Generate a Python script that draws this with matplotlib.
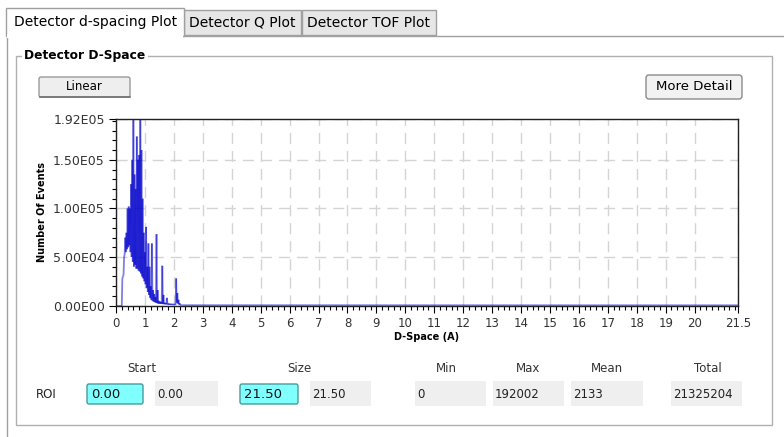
import numpy as np
import matplotlib
matplotlib.use("Agg")
import matplotlib.pyplot as plt
from matplotlib.patches import Rectangle, FancyBboxPatch
from matplotlib.collections import LineCollection
from matplotlib.ticker import MultipleLocator, FixedLocator

plt.rcParams['font.family'] = ['DejaVu Sans']

# spectrum: d-spacing (A) and number of events
d_space = [0.00, 0.20, 0.22, 0.24, 0.26, 0.28, 0.30, 0.32, 0.34, 0.36, 0.38,
           0.40, 0.42, 0.44, 0.46, 0.48, 0.50, 0.52, 0.54, 0.56, 0.58,
           0.60, 0.62, 0.64, 0.66, 0.68, 0.70, 0.72, 0.74, 0.76, 0.78,
           0.80, 0.82, 0.84, 0.86, 0.88, 0.90, 0.92, 0.94, 0.96, 0.98,
           1.00, 1.02, 1.04, 1.06, 1.08, 1.10, 1.12, 1.14, 1.16, 1.18,
           1.20, 1.22, 1.24, 1.26, 1.28, 1.30, 1.32, 1.34, 1.36, 1.38,
           1.40, 1.42, 1.44, 1.46, 1.48, 1.50, 1.52, 1.54, 1.56, 1.58,
           1.60, 1.62, 1.64, 1.66, 1.68, 1.70, 1.72, 1.74, 1.76, 1.78,
           1.80, 1.82, 1.84, 1.86, 1.88, 1.90, 1.92, 1.94, 1.96, 1.98,
           2.00, 2.02, 2.04, 2.06, 2.08, 2.10, 2.12, 2.14, 2.16, 2.18,
           2.20, 2.22, 2.24, 2.26, 2.28, 2.30, 21.50]
events = [0, 0, 28000, 30000, 31000, 50000, 53000, 70000, 55000, 75000, 58000,
          100000, 60000, 102000, 62000, 100000, 55000, 125000, 50000, 150000, 45000,
          192000, 40000, 135000, 42000, 120000, 38000, 174000, 38000, 150000, 36000,
          155000, 35000, 192000, 33000, 160000, 30000, 110000, 28000, 75000, 25000,
          55000, 22000, 81000, 18000, 40000, 14000, 64000, 11000, 40000, 8000,
          20000, 6000, 64000, 5000, 16000, 4000, 12000, 3500, 9000, 3000,
          73500, 2500, 16000, 2000, 5000, 2000, 4000, 1800, 4000, 1800,
          41000, 1500, 11000, 1500, 3000, 1500, 2500, 1200, 8000, 1200,
          2000, 1000, 2000, 1000, 1800, 1000, 1800, 900, 1500, 900,
          1500, 900, 1500, 1000, 28000, 3000, 13000, 2000, 6000, 1000,
          2500, 500, 600, 400, 500, 400, 300]

y_ticks = [0, 50000, 100000, 150000, 192002]
y_labels = ["0.00E00", "5.00E04", "1.00E05", "1.50E05", "1.92E05"]
x_ticks = list(range(0, 21)) + [21.5]
x_labels = [str(v) for v in range(0, 21)] + ["21.5"]

roi_heads = ["Start", "Size", "Min", "Max", "Mean", "Total"]
roi_values = ["0.00", "0.00", "21.50", "21.50", "0", "192002", "2133", "21325204"]

W, H = 784, 437
fig = plt.figure(figsize=(W / 100, H / 100), dpi=100)
bg = fig.add_axes([0, 0, 1, 1])
bg.set_xlim(0, W)
bg.set_ylim(H, 0)
bg.axis("off")


def box(x0, y0, x1, y1, fc, ec, lw=1.0, z=1):
    bg.add_patch(Rectangle((x0, y0), x1 - x0, y1 - y0, facecolor=fc,
                           edgecolor=ec, linewidth=lw, zorder=z))


# tab strip
bg.plot([184, W], [35.5, 35.5], color="#a0a0a0", lw=1)
bg.plot([7.5, 7.5], [35, H], color="#a0a0a0", lw=1)
box(6, 8, 184, 36, "white", "#a0a0a0", z=2)
bg.add_patch(Rectangle((7, 34), 176, 4, facecolor="white", edgecolor="none", zorder=3))
box(184, 10, 301, 35, "#e6e6e6", "#a0a0a0")
box(302, 10, 436, 35, "#e6e6e6", "#a0a0a0")
bg.text(14, 22, "Detector d-spacing Plot", fontsize=10, va="center", zorder=4)
bg.text(189, 23, "Detector Q Plot", fontsize=10, va="center", zorder=4)
bg.text(307, 23, "Detector TOF Plot", fontsize=10, va="center", zorder=4)

# group box
box(16, 56, 772, 425, "none", "#b0b0b0")
bg.add_patch(Rectangle((22, 50), 126, 12, facecolor="white", edgecolor="none", zorder=2))
bg.text(24, 56, "Detector D-Space", fontsize=8.8, fontweight="bold", va="center", zorder=3)

# buttons
bg.add_patch(FancyBboxPatch((39, 77), 91, 20, boxstyle="round,pad=0,rounding_size=2",
                            facecolor="#eeeeee", edgecolor="#9a9a9a", lw=1))
bg.plot([40, 130], [96.5, 96.5], color="#707070", lw=1.2)
bg.text(84.5, 87, "Linear", fontsize=8.5, ha="center", va="center")
bg.add_patch(FancyBboxPatch((646, 75), 96, 24, boxstyle="round,pad=0,rounding_size=3",
                            facecolor="#f2f2f2", edgecolor="#8a8a8a", lw=1))
bg.text(694, 87, "More Detail", fontsize=9.5, ha="center", va="center")

# ROI row
head_x = [142, 299, 446, 528, 607, 708]
for hx, t in zip(head_x, roi_heads):
    bg.text(hx, 369, t, fontsize=8.5, ha="center", va="center", color="#333333")
bg.text(36, 395, "ROI", fontsize=8.5, va="center", color="#222222")

fields = [(87, 143, True), (155, 218, False), (240, 298, True), (310, 371, False),
          (415, 486, False), (493, 564, False), (571, 643, False), (671, 742, False)]
for (x0, x1, edit), val in zip(fields, roi_values):
    if edit:
        bg.add_patch(FancyBboxPatch((x0, 384), x1 - x0, 20,
                                    boxstyle="round,pad=0,rounding_size=2",
                                    facecolor="#80ffff", edgecolor="#4a9a9a", lw=1))
        bg.text(x0 + 4, 395, val, fontsize=9.5, va="center", color="#111111")
    else:
        box(x0, 381, x1, 406, "#efefef", "none")
        bg.text(x0 + 2, 394, val, fontsize=8.5, va="center", color="#222222")

# plot area
left, right, top, bottom = 116, 738, 119, 305.6
ax = fig.add_axes([left / W, 1 - bottom / H, (right - left) / W, (bottom - top) / H])
# segments drawn one by one so that overlapping strokes darken like the original
pts = np.column_stack([d_space, events])
segs = np.stack([pts[:-1], pts[1:]], axis=1)
ax.add_collection(LineCollection(segs, colors="#0000cc", alpha=0.5, linewidths=1.3))
ax.set_xlim(0, 21.5)
ax.set_ylim(0, 192002)
ax.xaxis.set_major_locator(FixedLocator(x_ticks))
ax.set_xticklabels(x_labels, fontsize=8.5, color="#333333")
ax.xaxis.set_minor_locator(MultipleLocator(0.2))
ax.yaxis.set_major_locator(FixedLocator(y_ticks))
ax.set_yticklabels(y_labels, fontsize=9, color="#333333")
ax.yaxis.set_minor_locator(MultipleLocator(10000))
ax.tick_params(which="major", length=5, width=0.8, pad=3)
ax.tick_params(which="minor", length=3, width=0.8)
ax.grid(True, which="major", color="#d4d4d4", linestyle=(0, (8, 5)), lw=1)
for s in ax.spines.values():
    s.set_color("#222222")
    s.set_linewidth(1)
ax.set_xlabel("D-Space (A)", fontsize=7, fontweight="bold", labelpad=2)
ax.set_ylabel("Number Of Events", fontsize=7, fontweight="bold", labelpad=4)

fig.savefig("out.png", dpi=100)
